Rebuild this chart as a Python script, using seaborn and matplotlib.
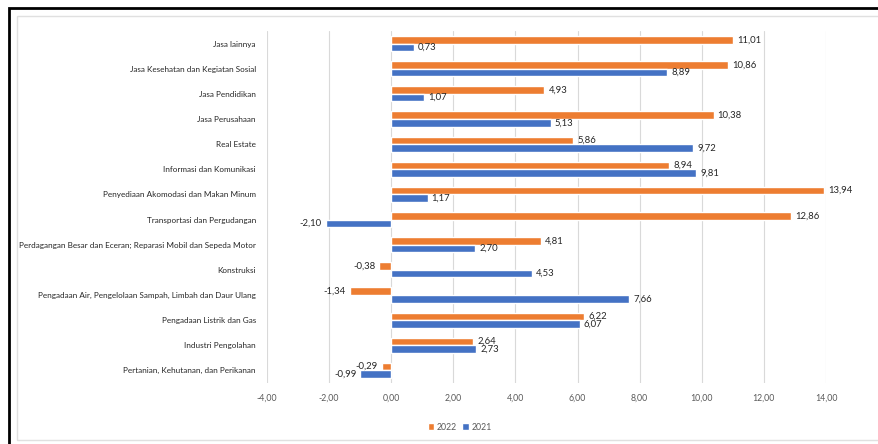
import pandas as pd
import matplotlib.pyplot as plt
import seaborn as sns
from matplotlib.patches import Rectangle

# sektor, dari atas ke bawah
sektor = [
    "Jasa lainnya",
    "Jasa Kesehatan dan Kegiatan Sosial",
    "Jasa Pendidikan",
    "Jasa Perusahaan",
    "Real Estate",
    "Informasi dan Komunikasi",
    "Penyediaan Akomodasi dan Makan Minum",
    "Transportasi dan Pergudangan",
    "Perdagangan Besar dan Eceran; Reparasi Mobil dan Sepeda Motor",
    "Konstruksi",
    "Pengadaan Air, Pengelolaan Sampah, Limbah dan Daur Ulang",
    "Pengadaan Listrik dan Gas",
    "Industri Pengolahan",
    "Pertanian, Kehutanan, dan Perikanan",
]
nilai_2022 = [11.01, 10.86, 4.93, 10.38, 5.86, 8.94, 13.94, 12.86, 4.81, -0.38, -1.34, 6.22, 2.64, -0.29]
nilai_2021 = [0.73, 8.89, 1.07, 5.13, 9.72, 9.81, 1.17, -2.10, 2.70, 4.53, 7.66, 6.07, 2.73, -0.99]
tahun = ["2022", "2021"]
warna = ["#ED7D31", "#4472C4"]

df = pd.DataFrame({
    "Sektor": sektor * 2,
    "Tahun": ["2022"] * len(sektor) + ["2021"] * len(sektor),
    "Nilai": nilai_2022 + nilai_2021,
})

sns.set_style("white")
plt.rcParams["font.family"] = ["Lato", "DejaVu Sans"]
fs = 6.3

fig = plt.figure(figsize=(8.79, 4.44), dpi=100)
ax = fig.add_axes([267 / 879, 1 - 383 / 444, (826 - 267) / 879, (383 - 31) / 444])

sns.barplot(data=df, y="Sektor", x="Nilai", hue="Tahun", order=sektor,
            hue_order=tahun, palette=warna, orient="h", width=0.6,
            saturation=1, ax=ax)

# label nilai dengan koma desimal
for cont in ax.containers:
    labels = [f"{b.get_width():.2f}".replace(".", ",") for b in cont]
    ax.bar_label(cont, labels=labels, padding=3, fontsize=6.8, color="#262626")

ax.set_xlim(-4, 14)
ax.set_xticks(range(-4, 15, 2))
ax.set_xticklabels([f"{v:.2f}".replace(".", ",") for v in range(-4, 15, 2)])
ax.grid(axis="x", color="#d9d9d9", linewidth=0.8)
ax.set_axisbelow(True)
for s in ax.spines.values():
    s.set_visible(False)
ax.set_xlabel("")
ax.set_ylabel("")
ax.tick_params(axis="x", labelsize=fs, colors="#595959", length=0, pad=8)
ax.tick_params(axis="y", labelsize=5.85, colors="#262626", length=0, pad=8)

ax.legend(loc="upper center", bbox_to_anchor=(0.345, -0.09), ncol=2, frameon=False,
          fontsize=fs, handlelength=0.7, handleheight=0.7, columnspacing=0.6,
          handletextpad=0.3, labelcolor="#595959")

# bingkai gambar
fig.patches.append(Rectangle((17 / 879, 4 / 444), 1.0, 1 - 20 / 444, transform=fig.transFigure,
                             fill=False, edgecolor="#e0e0e0", linewidth=1))
fig.patches.append(Rectangle((9 / 879, -0.1), 1.2, 1.1 - 8 / 444, transform=fig.transFigure,
                             fill=False, edgecolor="black", linewidth=2))

fig.savefig("out.png", dpi=100)
